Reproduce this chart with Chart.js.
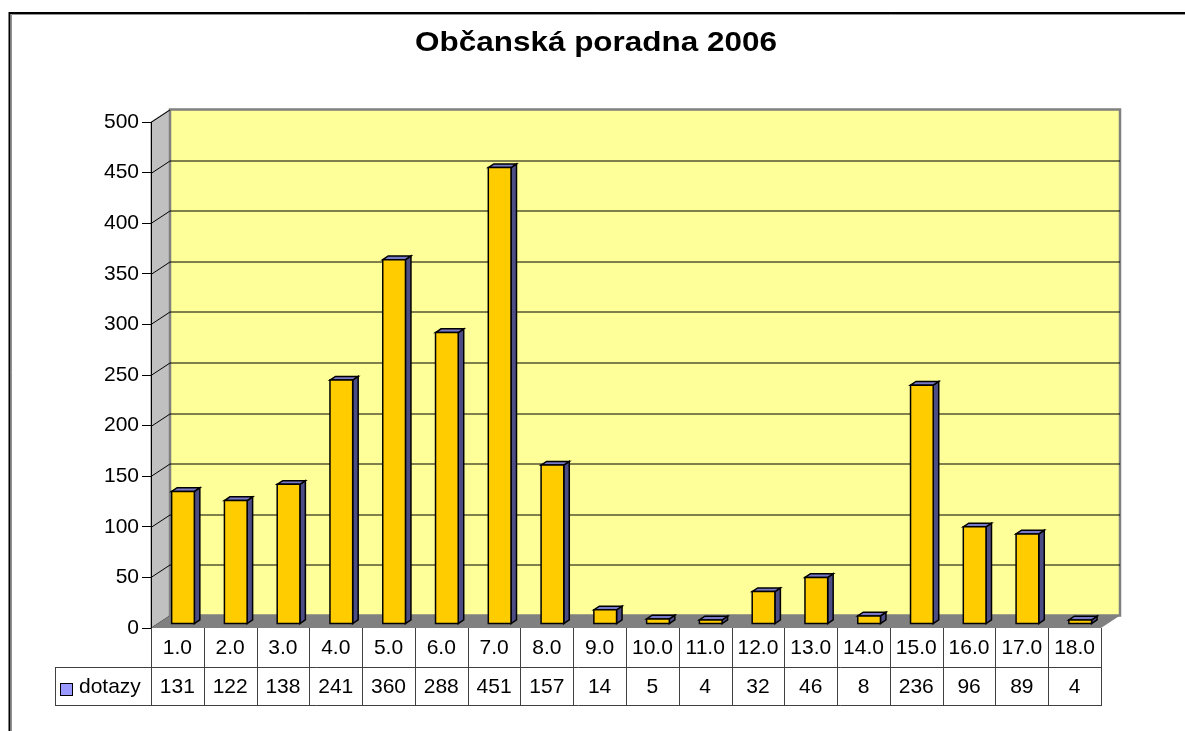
<!DOCTYPE html>
<html>
<head>
<meta charset="utf-8">
<script src="https://cdn.jsdelivr.net/npm/chart.js@4/dist/chart.umd.min.js"></script>
<style>
  body { margin: 0; background: #fff; }
  #wrap { position: relative; width: 1185px; height: 731px; }
  #title {
    position: absolute; left: 0; top: 29px; width: 1192px;
    text-align: center; font: bold 27px "Liberation Sans", Arial, sans-serif;
    line-height: 27px; color: #000;
    transform: scaleX(1.165); transform-origin: 596px 0;
  }
  canvas { position: absolute; left: 0; top: 0; }
</style>
</head>
<body>
<div id="wrap">
  <canvas id="chart" width="1185" height="731"></canvas>
  <div id="title"></div>
</div>
<script>
// Data
const chartTitle = "Občanská poradna 2006";
const seriesName = "dotazy";
const categories = ["1.0", "2.0", "3.0", "4.0", "5.0", "6.0", "7.0", "8.0", "9.0",
  "10.0", "11.0", "12.0", "13.0", "14.0", "15.0", "16.0", "17.0", "18.0"];
const dotazy = [131, 122, 138, 241, 360, 288, 451, 157, 14, 5, 4, 32, 46, 8, 236, 96, 89, 4];
const yMin = 0;
const yMax = 500;
const yStep = 50;

document.getElementById("title").textContent = chartTitle;

const FONT = '"Liberation Sans", Arial, sans-serif';
// 3D depth of the floor / walls and of the bars
const DX = 19, DY = 12.5;
const BAR_OX = 5.6, BAR_OY = 4;   // front face offset
const BAR_DX = 5.5, BAR_DY = 3.7; // bar thickness

function poly(ctx, pts, fill, stroke, lw) {
  ctx.beginPath();
  ctx.moveTo(pts[0][0], pts[0][1]);
  for (let i = 1; i < pts.length; i++) ctx.lineTo(pts[i][0], pts[i][1]);
  ctx.closePath();
  if (fill) { ctx.fillStyle = fill; ctx.fill(); }
  if (stroke) { ctx.strokeStyle = stroke; ctx.lineWidth = lw || 1; ctx.stroke(); }
}

const excel3d = {
  id: "excel3d",
  beforeDraw(chart) {
    const ctx = chart.ctx;
    const a = chart.chartArea;
    const ys = chart.scales.y;
    const top = ys.getPixelForValue(yMax);
    const bot = ys.getPixelForValue(yMin);
    ctx.save();
    ctx.fillStyle = "#fff";
    ctx.fillRect(0, 0, chart.width, chart.height);

    // outer frame (left + top only visible)
    ctx.strokeStyle = "#909090";
    ctx.lineWidth = 1;
    ctx.beginPath();
    ctx.moveTo(11.5, chart.height); ctx.lineTo(11.5, 14.5); ctx.lineTo(chart.width, 14.5);
    ctx.stroke();
    ctx.strokeStyle = "#000";
    ctx.lineWidth = 2;
    ctx.beginPath();
    ctx.moveTo(9.5, chart.height); ctx.lineTo(9.5, 13); ctx.lineTo(chart.width, 13);
    ctx.stroke();

    // side wall
    poly(ctx, [[a.left, top], [a.left + DX, top - DY], [a.left + DX, bot - DY], [a.left, bot]],
      "#c0c0c0", "#808080", 1);
    // back wall
    poly(ctx, [[a.left + DX, top - DY], [a.right + DX, top - DY], [a.right + DX, bot - DY], [a.left + DX, bot - DY]],
      "#ffff99", "#808080", 2.5);

    // gridlines on back wall + diagonals on side wall
    ctx.strokeStyle = "#000";
    ctx.lineWidth = 1;
    ys.ticks.forEach(t => {
      const py = Math.round(ys.getPixelForValue(t.value)) + 0.5;
      ctx.beginPath();
      ctx.moveTo(a.left, py);
      ctx.lineTo(a.left + DX, py - DY);
      if (t.value > yMin && t.value < yMax) ctx.lineTo(a.right + DX, py - DY);
      ctx.stroke();
    });

    // floor
    poly(ctx, [[a.left, bot], [a.right, bot], [a.right + DX, bot - DY], [a.left + DX, bot - DY]],
      "#808080", null);
    ctx.restore();
  },
  afterDatasetsDraw(chart) {
    const ctx = chart.ctx;
    const meta = chart.getDatasetMeta(0);
    ctx.save();
    ctx.lineJoin = "miter";
    meta.data.forEach(el => {
      const p = el.getProps(["x", "y", "base", "width"], true);
      const l = p.x - p.width / 2 + BAR_OX;
      const r = l + p.width;
      const t = p.y - BAR_OY;
      const b = p.base - BAR_OY;
      // side
      poly(ctx, [[r, t], [r + BAR_DX, t - BAR_DY], [r + BAR_DX, b - BAR_DY], [r, b]], "#4d4d85", "#000", 1.5);
      // top
      poly(ctx, [[l, t], [l + BAR_DX, t - BAR_DY], [r + BAR_DX, t - BAR_DY], [r, t]], "#7878c8", "#000", 1.5);
      // front
      poly(ctx, [[l, t], [r, t], [r, b], [l, b]], "#ffcc00", "#000", 1.5);
    });
    ctx.restore();
  },
  afterDraw(chart) {
    const ctx = chart.ctx;
    const a = chart.chartArea;
    const xs = chart.scales.x;
    const half = (xs.getPixelForValue(1) - xs.getPixelForValue(0)) / 2;
    const r0 = a.bottom, r1 = a.bottom + 39, r2 = a.bottom + 77;
    const legL = 55;
    ctx.save();
    ctx.strokeStyle = "#404040";
    ctx.lineWidth = 1;
    ctx.beginPath();
    // horizontal lines
    ctx.moveTo(legL, r1 + 0.5); ctx.lineTo(a.right + 1, r1 + 0.5);
    ctx.moveTo(legL, r2 + 0.5); ctx.lineTo(a.right + 1, r2 + 0.5);
    // legend cell
    ctx.moveTo(legL + 0.5, r1); ctx.lineTo(legL + 0.5, r2);
    // column boundaries
    for (let i = 0; i <= categories.length; i++) {
      const x = Math.round(xs.getPixelForValue(0) - half + i * 2 * half) + 0.5;
      ctx.moveTo(x, r0); ctx.lineTo(x, r2);
    }
    ctx.stroke();

    ctx.fillStyle = "#000";
    ctx.font = "21px " + FONT;
    ctx.textAlign = "center";
    ctx.textBaseline = "middle";
    categories.forEach((c, i) => {
      const cx = xs.getPixelForValue(i);
      ctx.fillText(c, cx, (r0 + r1) / 2 + 1);
      ctx.fillText(String(dotazy[i]), cx, (r1 + r2) / 2 + 1);
    });

    // legend key
    ctx.fillStyle = "#9999ff";
    ctx.fillRect(61, 684, 11, 11);
    ctx.strokeStyle = "#000";
    ctx.lineWidth = 1;
    ctx.strokeRect(60.5, 683.5, 12, 12);
    ctx.fillStyle = "#000";
    ctx.textAlign = "left";
    ctx.fillText(seriesName, 79, (r1 + r2) / 2 + 1);
    ctx.restore();
  }
};

new Chart(document.getElementById("chart"), {
  type: "bar",
  data: {
    labels: categories,
    datasets: [{
      label: seriesName,
      data: dotazy,
      backgroundColor: "rgba(0,0,0,0)",
      borderWidth: 0,
      categoryPercentage: 1,
      barPercentage: 0.43
    }]
  },
  options: {
    responsive: false,
    animation: false,
    layout: { padding: { top: 122, bottom: 103, left: 0, right: 84 } },
    plugins: { legend: { display: false }, tooltip: { enabled: false }, title: { display: false } },
    scales: {
      x: { display: false },
      y: {
        min: yMin, max: yMax,
        ticks: { stepSize: yStep, color: "#000", font: { size: 21, family: FONT }, padding: 3 },
        grid: { drawOnChartArea: false, drawTicks: true, tickLength: 9, color: "#000" },
        border: { display: true, color: "#000", width: 1 },
        afterFit(s) { s.width = 151; }
      }
    }
  },
  plugins: [excel3d]
});
</script>
</body>
</html>
